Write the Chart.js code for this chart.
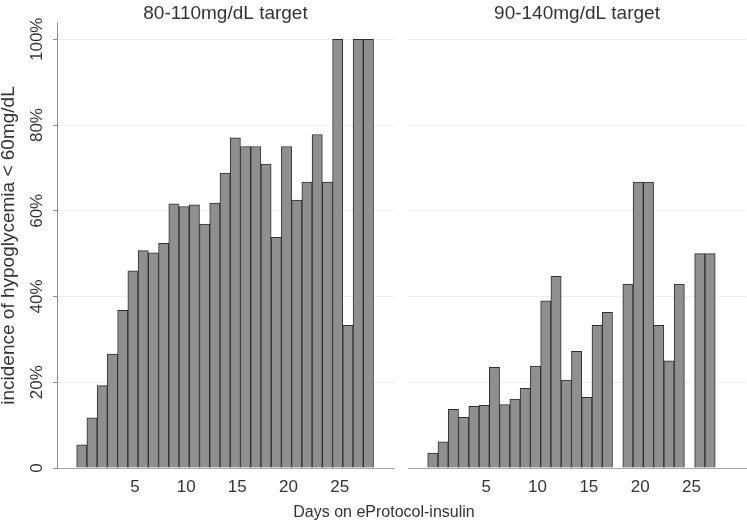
<!DOCTYPE html>
<html>
<head>
<meta charset="utf-8">
<script src="https://cdn.jsdelivr.net/npm/chart.js@4.4.0/dist/chart.umd.min.js"></script>
<style>
    html, body { margin: 0; padding: 0; background: #fff; }
    #wrap { position: relative; width: 747px; height: 524px; font-family: "Liberation Sans", Arial, sans-serif; }
    #leftBox { position: absolute; left: 0; top: 0; width: 400px; height: 524px; }
    #rightBox { position: absolute; left: 400px; top: 0; width: 347px; height: 524px; }
    #xTitle { position: absolute; left: 0; width: 768px; top: 504px; line-height: 16px; text-align: center; font-size: 16px; color: #333; }
</style>
</head>
<body>
<div id="wrap">
    <div id="leftBox"><canvas id="lowTargetChart"></canvas></div>
    <div id="rightBox"><canvas id="highTargetChart"></canvas></div>
    <div id="xTitle">Days on eProtocol-insulin</div>
</div>
<script>
let lowTargetDays = [0, 1, 2, 3, 4, 5, 6, 7, 8, 9, 10, 11, 12, 13, 14, 15, 16, 17, 18, 19, 20, 21, 22, 23, 24, 25, 26, 27, 28];
let lowTargetIncidence = [5.4, 11.7, 19.2, 26.6, 36.8, 46.0, 50.7, 50.2, 52.4, 61.6, 61.0, 61.4, 56.9, 61.8, 68.8, 77.0, 75.0, 75.0, 70.9, 53.8, 75.0, 62.5, 66.7, 77.8, 66.7, 100, 33.3, 100, 100];

let highTargetDays = [0, 1, 2, 3, 4, 5, 6, 7, 8, 9, 10, 11, 12, 13, 14, 15, 16, 17, 18, 19, 20, 21, 22, 23, 24, 25, 26, 27];
let highTargetIncidence = [3.5, 6.1, 13.7, 11.8, 14.4, 14.6, 23.5, 14.8, 16.1, 18.6, 23.8, 39.0, 44.7, 20.5, 27.2, 16.5, 33.3, 36.3, null, 42.9, 66.7, 66.7, 33.3, 25.0, 42.9, null, 50.0, 50.0];

let xTickValues = [5, 10, 15, 20, 25];
let yTickValues = [0, 20, 40, 60, 80, 100];
let yTickLabels = ['0', '20%', '40%', '60%', '80%', '100%'];

let fontFamily = '"Liberation Sans", Arial, sans-serif';
let textColor = '#333';

function buildPanelChart(canvasId, title, days, values, withYAxis) {
    let ctx = document.getElementById(canvasId);

    let points = days.map((d, i) => ({ x: d, y: values[i] }));

    new Chart(ctx, {
        type: 'bar',
        data: {
            datasets: [{
                data: points,
                backgroundColor: '#8f8f8f',
                borderColor: '#2e2e2e',
                borderWidth: 1,
                barPercentage: 1,
                categoryPercentage: 1,
            }],
        },
        options: {
            animation: false,
            responsive: true,
            maintainAspectRatio: false,
            layout: {
                padding: withYAxis ? { top: 4, right: 6, left: 0, bottom: 0 } : { top: 4, right: 1, left: 8, bottom: 0 },
            },
            plugins: {
                legend: { display: false },
                tooltip: { enabled: false },
                title: {
                    display: true,
                    text: title,
                    fullSize: false,
                    color: textColor,
                    font: { family: fontFamily, size: 19, weight: 'normal', lineHeight: 1 },
                    padding: 0,
                },
            },
            scales: {
                x: {
                    type: 'linear',
                    offset: false,
                    min: -2.42,
                    max: 30.5,
                    afterBuildTicks: (scale) => {
                        scale.ticks = xTickValues.map(v => ({ value: v }));
                    },
                    afterFit: (scale) => { scale.height = 56; },
                    ticks: {
                        color: textColor,
                        font: { family: fontFamily, size: 17 },
                        padding: 9,
                        labelOffset: 2,
                        maxRotation: 0,
                    },
                    grid: { display: false, drawTicks: false, offset: false },
                    border: { display: true, color: '#a8a8a8', width: 1 },
                },
                y: {
                    min: 0,
                    max: 103.8,
                    afterBuildTicks: (scale) => {
                        scale.ticks = yTickValues.map(v => ({ value: v }));
                    },
                    afterFit: (scale) => { scale.width = withYAxis ? 57 : 0; },
                    ticks: {
                        display: withYAxis,
                        color: textColor,
                        font: { family: fontFamily, size: 17 },
                        minRotation: 90,
                        maxRotation: 90,
                        crossAlign: 'center',
                        padding: -6,
                        callback: (value) => yTickLabels[yTickValues.indexOf(value)],
                    },
                    grid: {
                        color: (c) => (c.tick && c.tick.value === 0) ? 'rgba(0,0,0,0)' : '#efefef',
                        tickColor: '#8c8c8c',
                        tickLength: 4,
                        drawTicks: withYAxis,
                    },
                    border: { display: withYAxis, color: '#8c8c8c', width: 1 },
                    title: {
                        display: withYAxis,
                        text: 'incidence of hypoglycemia < 60mg/dL',
                        color: textColor,
                        font: { family: fontFamily, size: 19, lineHeight: 1 },
                        padding: { top: -1, bottom: 0 },
                    },
                },
            },
        },
    });
}

buildPanelChart('lowTargetChart', '80-110mg/dL target', lowTargetDays, lowTargetIncidence, true);
buildPanelChart('highTargetChart', '90-140mg/dL target', highTargetDays, highTargetIncidence, false);
</script>
</body>
</html>
